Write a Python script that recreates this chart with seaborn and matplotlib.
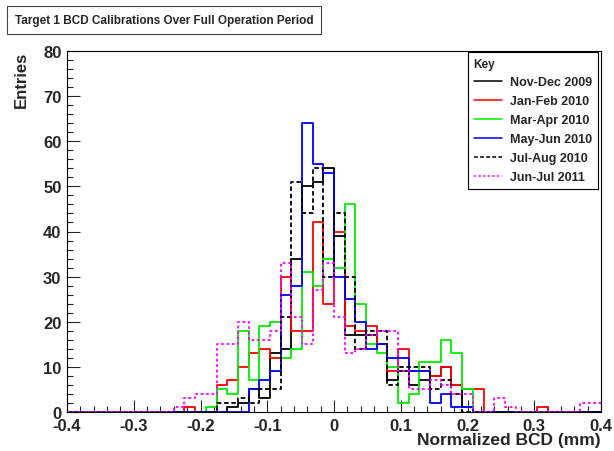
import numpy as np
import pandas as pd
import seaborn as sns
import matplotlib
matplotlib.use("Agg")
import matplotlib.pyplot as plt
from matplotlib.lines import Line2D
from matplotlib.ticker import MultipleLocator

# Histogram binning: 50 bins between -0.4 and 0.4 mm
n_bins = 50
x_range = (-0.4, 0.4)
bin_edges = np.linspace(x_range[0], x_range[1], n_bins + 1)
bin_centers = (bin_edges[:-1] + bin_edges[1:]) / 2

# Entries per bin (bins 0..49)
nov_dec_2009 = [0] * 15 + [1, 2, 5, 3, 13, 14, 34, 50, 51, 54, 39, 17, 17, 17, 15,
                           7, 9, 6, 7, 8, 10, 6, 1] + [0] * 12
jan_feb_2010 = [0] * 11 + [1, 0, 0, 6, 7, 10, 13, 14, 12, 30, 18, 18, 42, 24, 40,
                           19, 18, 19, 15, 9, 14, 9, 9, 8, 10, 6, 5, 5,
                           0, 0, 0, 0, 0, 1, 0, 0, 0, 0, 0]
mar_apr_2010 = [0] * 13 + [1, 5, 4, 18, 7, 19, 20, 12, 14, 31, 28, 34, 32, 46, 24,
                           15, 13, 10, 2, 4, 11, 11, 16, 13, 5] + [0] * 12
may_jun_2010 = [0] * 17 + [5, 7, 9, 26, 28, 64, 55, 53, 30, 25, 20, 14, 15, 12, 12,
                           9, 9, 2, 4, 1, 1] + [0] * 12
jul_aug_2010 = [0] * 14 + [2, 2, 3, 2, 5, 5, 21, 51, 44, 54, 30, 44, 30, 14, 18,
                           18, 6, 10, 10, 10, 5, 7, 4] + [0] * 13
jun_jul_2011 = [0] * 10 + [1, 3, 4, 4, 15, 15, 20, 16, 16, 18, 33, 21, 15, 27, 33,
                           21, 13, 14, 17, 18, 18, 9, 5, 5, 7, 6, 4, 4,
                           0, 0, 3, 1, 0, 0, 0, 0, 0, 0, 2, 2]

series_labels = ["Nov-Dec 2009", "Jan-Feb 2010", "Mar-Apr 2010",
                 "May-Jun 2010", "Jul-Aug 2010", "Jun-Jul 2011"]
series_counts = [nov_dec_2009, jan_feb_2010, mar_apr_2010,
                 may_jun_2010, jul_aug_2010, jun_jul_2011]
series_colors = ["#000000", "#ff0000", "#00ee00", "#0000ff", "#000000", "#ff00ff"]
series_styles = ["-", "-", "-", "-", (0, (2.5, 1.5)), (0, (1.5, 1.5))]

sns.set_style("ticks")
plt.rcParams["font.family"] = ["Liberation Sans", "DejaVu Sans"]
plt.rcParams["font.weight"] = "bold"

fig = plt.figure(figsize=(6.14, 4.52), dpi=100)
ax = fig.add_axes([67 / 614, 1 - 413 / 452, 534 / 614, 361 / 452])

for label, counts, color, style in zip(series_labels, series_counts,
                                       series_colors, series_styles):
    df = pd.DataFrame({"bcd": bin_centers, "entries": counts})
    sns.histplot(data=df, x="bcd", weights="entries", bins=n_bins, binrange=x_range,
                 element="step", fill=False, color=color, linestyle=style,
                 linewidth=1.3, ax=ax)

ax.set_xlim(*x_range)
ax.set_ylim(0, 80)
ax.xaxis.set_major_locator(MultipleLocator(0.1))
ax.xaxis.set_minor_locator(MultipleLocator(0.02))
ax.yaxis.set_major_locator(MultipleLocator(10))
ax.yaxis.set_minor_locator(MultipleLocator(2))
ax.tick_params(which="both", direction="in", top=False, right=False,
               labelsize=12, width=0.8, pad=4)
ax.tick_params(which="major", length=9)
ax.tick_params(which="minor", length=4.5)
ax.set_xticks(np.round(np.arange(-0.4, 0.41, 0.1), 1))
ax.set_xticklabels(["-0.4", "-0.3", "-0.2", "-0.1", "0", "0.1", "0.2", "0.3", "0.4"],
                   fontweight="bold", fontsize=12)
for lab in ax.get_yticklabels():
    lab.set_fontweight("bold")
for sp in ax.spines.values():
    sp.set_linewidth(0.8)
    sp.set_color("black")

ax.set_xlabel("Normalized BCD (mm)", loc="right", fontsize=12.5, fontweight="bold",
              va="center")
ax.xaxis.set_label_coords(1.0, -(441 - 413) / 361)
ax.set_ylabel("Entries", loc="top", fontsize=12, fontweight="bold", labelpad=10)

# Legend box
handles = [Line2D([0], [0], color=c, linestyle=s, linewidth=1.1)
           for c, s in zip(series_colors, series_styles)]
leg = fig.legend(handles, series_labels, title="Key", loc="upper left",
                 bbox_to_anchor=(468 / 614, 1 - 53 / 452),
                 prop={"weight": "bold", "size": 9},
                 title_fontproperties={"weight": "bold", "size": 8.5},
                 alignment="left", frameon=True, fancybox=False,
                 edgecolor="black", framealpha=1, borderpad=0.45,
                 labelspacing=0.55, handlelength=2.3, handletextpad=0.6,
                 borderaxespad=0)
leg.get_frame().set_linewidth(0.8)

# Title box
fig.text(15 / 614, 1 - 21 / 452, "Target 1 BCD Calibrations Over Full Operation Period",
         fontsize=8.5, fontweight="bold", va="center", ha="left",
         bbox=dict(boxstyle="square,pad=0.65", fc="white", ec="#444444", lw=0.8))

fig.savefig("out.png", dpi=100)
